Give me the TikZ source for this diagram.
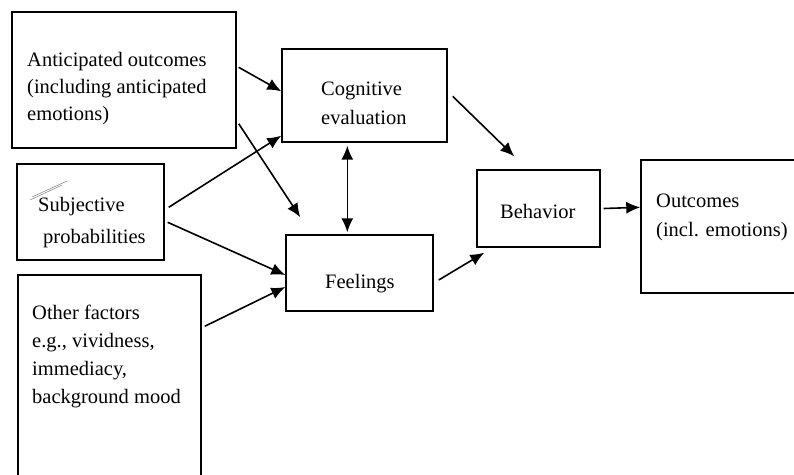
\documentclass[tikz,border=0pt]{standalone}
\usepackage{fontspec}
\setmainfont{Liberation Serif}
\usetikzlibrary{arrows.meta,calc}
\begin{document}
\begin{tikzpicture}[x=1pt,y=-1pt,
  box/.style={draw, line width=1.4pt, inner sep=0pt},
  lbl/.style={anchor=base west, inner sep=0pt, font=\fontsize{20.5}{27}\selectfont},
  arr/.style={line width=1.6pt, -{Latex[length=14pt,width=12pt]}},
  darr/.style={line width=1.6pt, {Latex[length=14pt,width=12pt]}-{Latex[length=14pt,width=12pt]}},
  scrib/.style={line width=0.5pt, gray}]
\useasboundingbox (0,0) rectangle (794,474);
\clip (0,0) rectangle (794,474);
\fill[white] (0,0) rectangle (794,474);
% boxes
\node[box, minimum width=224pt, minimum height=136pt] (A) at (124,80) {};
\node[box, minimum width=165pt, minimum height=93pt] (C) at (364.5,95.5) {};
\node[box, minimum width=147pt, minimum height=96pt] (S) at (90.5,212) {};
\node[box, minimum width=147pt, minimum height=76pt] (F) at (359.5,273) {};
\node[box, minimum width=183pt, minimum height=215pt] (O) at (109.5,382.5) {};
\node[box, minimum width=123pt, minimum height=77pt] (B) at (538.5,208.5) {};
\node[box, minimum width=169pt, minimum height=133pt] (Out) at (725.5,226.5) {};
% texts
\node[lbl] (ta1) at (27,66) {Anticipated outcomes};
\node[lbl] (ta2) at (27,93) {(including anticipated};
\node[lbl] (ta3) at (27,120) {emotions)};
\node[lbl] (tc1) at (321,95) {Cognitive};
\node[lbl] (tc2) at (321,124) {evaluation};
\node[lbl] (ts1) at (38,211) {Subjective};
\node[lbl] (ts2) at (43,243) {probabilities};
\node[lbl] (tf) at (325,288) {Feelings};
\node[lbl] (to1) at (32,319) {Other factors};
\node[lbl] (to2) at (32,347) {e.g., vividness,};
\node[lbl] (to3) at (32,375) {immediacy,};
\node[lbl] (to4) at (32,403) {background mood};
\node[lbl] (tb) at (500,218) {Behavior};
\node[lbl] (tu1) at (656,207) {Outcomes};
\node[lbl] (tu2) at (656,236) {(incl. emotions)};
% pen marks
\coordinate (m1) at (32,197);
\coordinate (m2) at (67,181);
\coordinate (m3) at (30,200);
\coordinate (m4) at (62,185);
\draw[scrib] (m1) -- (m2);
\draw[scrib] (m3) -- (m4);
% connectors
\draw[arr] ($(A.north east)+(2,56)$) -- ($(C.north west)+(0,43)$);
\draw[arr] ($(A.south east)+(2,-25)$) -- ($(F.north west)+(15,-17)$);
\draw[arr] ($(S.north east)+(4,44)$) -- ($(C.south west)+(0,-7)$);
\draw[arr] ($(S.north east)+(3,59)$) -- ($(F.west)+(0,2)$);
\draw[arr] ($(O.north east)+(3,52)$) -- ($(F.west)+(0,14)$);
\draw[darr] ($(C.south west)+(66,3)$) -- ($(F.north west)+(62,-2)$);
\draw[arr] ($(C.north east)+(5,48)$) -- ($(B.north west)+(38,-13)$);
\draw[arr] ($(F.east)+(5,7)$) -- ($(B.south west)+(8,5)$);
\draw[arr] ($(B.east)+(3,0)$) -- ($(Out.north west)+(0,48)$);
\end{tikzpicture}
\end{document}
